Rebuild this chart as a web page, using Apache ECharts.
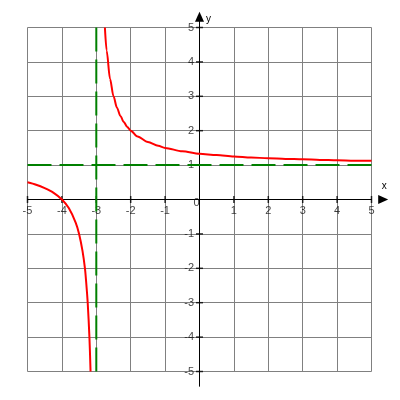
<!DOCTYPE html>
<html><head><meta charset="utf-8">
<script src="https://cdn.jsdelivr.net/npm/echarts@6/dist/echarts.min.js"></script>
<style>html,body{margin:0;padding:0;background:#fff}#c{width:400px;height:400px}</style>
</head><body><div id="c"></div>
<script>
// Tick values
const xTicks = [-5,-4,-3,-2,-1,0,1,2,3,4,5];
const yTicks = [-5,-4,-3,-2,-1,1,2,3,4,5];
// Right branch of the red curve
const rightX = [-2.75,-2.7,-2.6,-2.5,-2.4,-2.3,-2.2,-2.1,-2.0,-1.8,-1.5,-1.2,-1.0,-0.5,0,0.5,1,1.5,2,2.5,3,3.5,4,4.5,5];
const rightY = [5,4.33,3.5,3,2.67,2.43,2.25,2.11,2,1.83,1.67,1.56,1.5,1.4,1.33,1.29,1.25,1.22,1.2,1.18,1.17,1.15,1.14,1.13,1.125];
// Left branch of the red curve
const leftX = [-5,-4.75,-4.5,-4.25,-4,-3.8,-3.6,-3.5,-3.4,-3.33,-3.3,-3.25,-3.2,-3.167];
const leftY = [0.5,0.43,0.33,0.2,0,-0.25,-0.67,-1,-1.5,-2,-2.33,-3,-4,-5];
// Asymptotes
const vAsymX = -3;
const hAsymY = 1;

const chart = echarts.init(document.getElementById('c'), null, {renderer:'canvas'});
const font = 'Liberation Sans, Arial, sans-serif';
const zip = (a,b)=>a.map((v,i)=>[v,b[i]]);
const lbl = {fontFamily:font,fontSize:11,color:'#111'};

chart.setOption({
  animation:false,
  backgroundColor:'#fff',
  grid:{left:27.5,right:28.5,top:27.5,bottom:28.5},
  xAxis:{type:'value',min:-5,max:5,interval:1,
    axisLine:{show:false},axisTick:{show:false},axisLabel:{show:false},
    splitLine:{show:true,lineStyle:{color:'#808080',width:1}}
  },
  yAxis:{type:'value',min:-5,max:5,interval:1,
    axisLine:{show:false},axisTick:{show:false},axisLabel:{show:false},
    splitLine:{show:true,lineStyle:{color:'#808080',width:1}}
  },
  series:[
    {type:'line',clip:false,silent:true,z:3,symbol:'none',
      lineStyle:{color:'#000',width:1},
      data:[{value:[-5.44,0],symbol:'none'},
            {value:[5.34,0],symbol:'triangle',symbolSize:[9,10],symbolRotate:-90,
             itemStyle:{color:'#000'},
             label:{show:true,formatter:'x',position:'top',distance:4,fontFamily:font,fontSize:10,color:'#000',offset:[1,0]}}]
    },
    {type:'line',clip:false,silent:true,z:3,symbol:'none',
      lineStyle:{color:'#000',width:1},
      data:[{value:[0,-5.44],symbol:'none'},
            {value:[0,5.31],symbol:'triangle',symbolSize:[9,10],
             itemStyle:{color:'#000'},
             label:{show:true,formatter:'y',position:'right',distance:2,fontFamily:font,fontSize:10,color:'#000',offset:[0,2]}}]
    },
    {type:'scatter',clip:false,silent:true,z:3,symbol:'rect',symbolSize:[1.5,7],
      itemStyle:{color:'#000'},
      label:Object.assign({show:true,position:'bottom',distance:2,formatter:p=>String(p.value[0])},lbl),
      data:xTicks.map(v=>v===0
        ? {value:[v,0],symbolSize:0,label:{offset:[-3,-4]}}
        : {value:[v,0]})},
    {type:'scatter',clip:false,silent:true,z:3,symbol:'rect',symbolSize:[7,1.5],
      itemStyle:{color:'#000'},
      label:Object.assign({show:true,position:'left',distance:2,formatter:p=>String(p.value[1])},lbl),
      data:yTicks.map(v=>[0,v])},
    {type:'line',silent:true,z:4,symbol:'none',
      lineStyle:{color:'#008000',width:2,type:[24,8]},
      data:[[vAsymX,5],[vAsymX,-5]]},
    {type:'line',silent:true,z:4,symbol:'none',
      lineStyle:{color:'#008000',width:2,type:[24,8]},
      data:[[-5,hAsymY],[5,hAsymY]]},
    {type:'line',silent:true,z:5,symbol:'none',smooth:0.3,smoothMonotone:'x',
      lineStyle:{color:'#ff0000',width:2},data:zip(rightX,rightY)},
    {type:'line',silent:true,z:5,symbol:'none',smooth:0.3,
      lineStyle:{color:'#ff0000',width:2},data:zip(leftX,leftY)}
  ]
});
</script></body></html>
